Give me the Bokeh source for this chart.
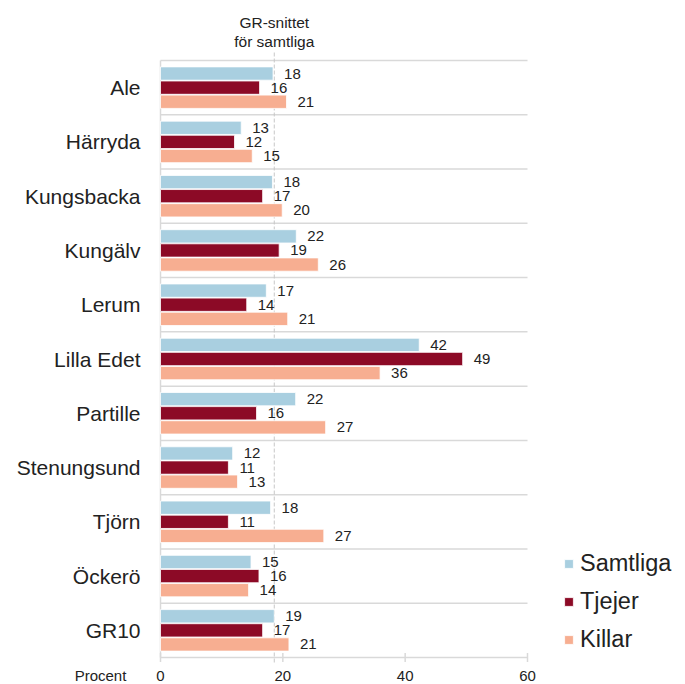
import math
from bokeh.plotting import figure
from bokeh.models import ColumnDataSource, Range1d, Legend, LegendItem
from bokeh.core.properties import value
from bokeh.embed import file_html
from bokeh.resources import INLINE

categories = ["Ale", "Härryda", "Kungsbacka", "Kungälv", "Lerum", "Lilla Edet",
              "Partille", "Stenungsund", "Tjörn", "Öckerö", "GR10"]
samtliga = [18.4, 13.2, 18.3, 22.2, 17.3, 42.3, 22.1, 11.8, 18.0, 14.8, 18.6]
tjejer = [16.2, 12.1, 16.7, 19.4, 14.1, 49.4, 15.7, 11.1, 11.1, 16.1, 16.7]
killar = [20.6, 15.0, 19.9, 25.8, 20.8, 35.9, 27.0, 12.6, 26.7, 14.4, 21.0]
gr_avg = 18.6
series_names = ["Samtliga", "Tjejer", "Killar"]
colors = ["#A9CFE0", "#8C0A26", "#F7AE91"]
x_ticks = [0, 20, 40, 60]
x_label = "Procent"
avg_label = ["GR-snittet", "för samtliga"]

FONT = "Liberation Sans"
TXT = "#222222"
GRID = "#D9D9D9"

# layout (pixels)
W, H = 680, 684
LEFT, TOP = 160, 60
PLOT_W, PLOT_H = 367, 597
X_MIN, X_MAX = x_ticks[0], x_ticks[-1]
PX = PLOT_W / (X_MAX - X_MIN)          # pixels per percent
n = len(categories)
BAND = PLOT_H / n                       # pixels per category band

p = figure(width=W, height=H, min_border=0,
           x_range=Range1d(X_MIN - LEFT / PX, X_MIN + (W - LEFT) / PX),
           y_range=Range1d((H - TOP) / BAND, -TOP / BAND),
           output_backend="svg", toolbar_location=None)
p.axis.visible = False
p.grid.visible = False
p.outline_line_color = None

centers = [i + 0.5 for i in range(n)]
src = ColumnDataSource(dict(cat=categories, y=centers, x0=[X_MIN] * n))

# category separators (top of each band) and axis lines
bounds = list(range(n + 1))
p.segment(x0=[X_MIN] * len(bounds), x1=[X_MAX] * len(bounds), y0=bounds, y1=bounds,
          line_color=GRID, line_width=1.5)
p.segment(x0=[X_MIN], x1=[X_MIN], y0=[0], y1=[n], line_color=GRID, line_width=1.5)

# x ticks and tick labels
p.scatter(x=x_ticks, y=[n] * len(x_ticks), marker="dash", size=9, angle=math.pi / 2,
          line_color=GRID, line_width=1.5)
p.text(x=x_ticks, y=[n] * len(x_ticks), text=[str(t) for t in x_ticks], y_offset=18,
       text_align="center", text_baseline="middle", text_font=value(FONT),
       text_font_size="15px", text_color=TXT)
p.text(x=[X_MIN], y=[n], text=[x_label], x_offset=-60, y_offset=18,
       text_align="center", text_baseline="middle", text_font=value(FONT),
       text_font_size="15px", text_color=TXT)

# category labels
p.text(x="x0", y="y", text="cat", source=src, x_offset=-20,
       text_align="right", text_baseline="middle", text_font=value(FONT),
       text_font_size="21px", text_color=TXT)

# GR average reference line
p.segment(x0=[gr_avg], x1=[gr_avg], y0=[-8 / BAND], y1=[n + 7 / BAND],
          line_color="#C8C8C8", line_dash="4 2", line_width=1)
p.text(x=[gr_avg, gr_avg], y=[0, 0], text=avg_label, y_offset=[-38, -19],
       text_align="center", text_baseline="middle", text_font=value(FONT),
       text_font_size="15.5px", text_color=TXT)

offsets = [-0.26, 0.0, 0.26]
series = [samtliga, tjejer, killar]
renderers = []
for vals, off, c in zip(series, offsets, colors):
    s = ColumnDataSource(dict(y=[cy + off for cy in centers], v=vals,
                              lab=[f"{v:.0f}" for v in vals]))
    r = p.hbar(y="y", left=0, right="v", height=0.245, source=s,
               fill_color=c, line_color="white", line_width=0.8)
    renderers.append(r)
    p.text(x="v", y="y", text="lab", source=s, x_offset=11,
           text_baseline="middle", text_align="left",
           text_font=value(FONT), text_font_size="15px", text_color=TXT)

legend = Legend(items=[LegendItem(label=nm, renderers=[r]) for nm, r in zip(series_names, renderers)],
                location=(563, 31), glyph_width=11, glyph_height=11, label_height=25,
                spacing=11, label_text_font=FONT, label_text_font_size="23.5px",
                label_text_color=TXT, border_line_color=None, background_fill_alpha=0,
                label_standoff=6, padding=4, margin=0)
p.add_layout(legend)

open("out.html", "w").write(file_html(p, INLINE))
